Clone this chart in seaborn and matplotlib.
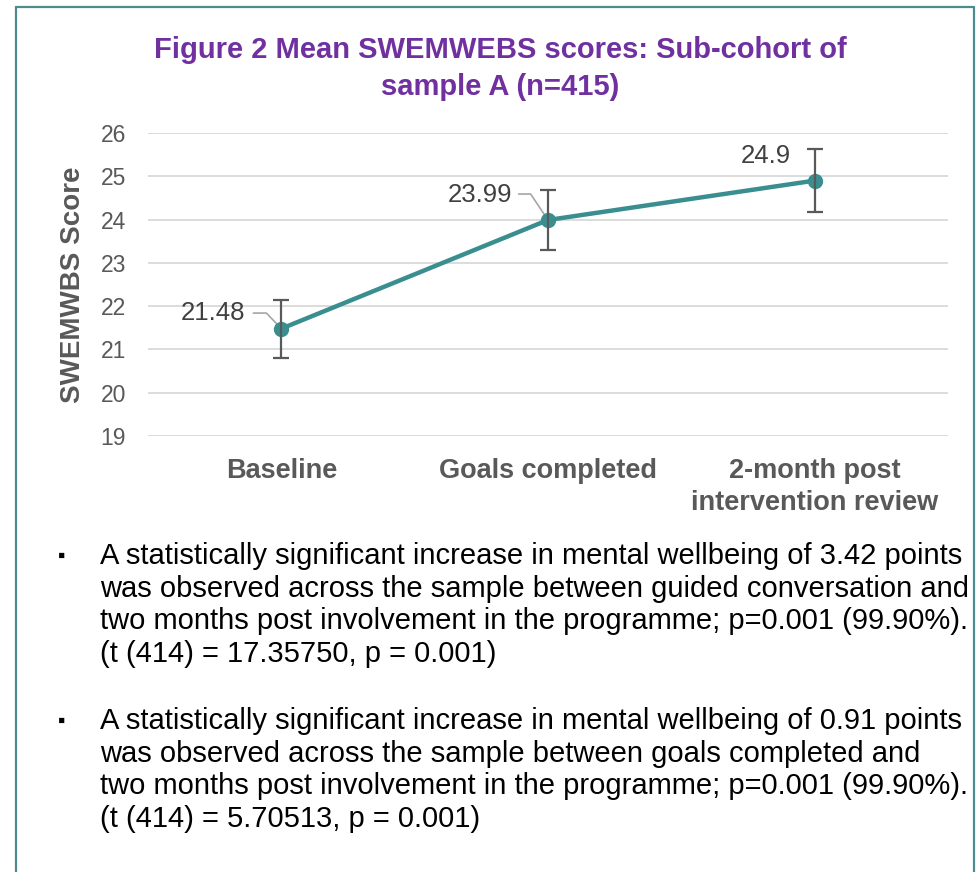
import matplotlib
matplotlib.use("Agg")
import matplotlib.pyplot as plt
import seaborn as sns
import pandas as pd
from matplotlib.lines import Line2D

stages = ["Baseline", "Goals completed", "2-month post\nintervention review"]
mean_scores = [21.48, 23.99, 24.9]
err_half = [0.67, 0.69, 0.72]
value_labels = ["21.48", "23.99", "24.9"]
y_ticks = [19, 20, 21, 22, 23, 24, 25, 26]

title_text = "Figure 2 Mean SWEMWEBS scores: Sub-cohort of\nsample A (n=415)"
y_label = "SWEMWBS Score"
bullet1 = ["A statistically significant increase in mental wellbeing of 3.42 points",
           "was observed across the sample between guided conversation and",
           "two months post involvement in the programme; p=0.001 (99.90%).",
           "(t (414) = 17.35750, p = 0.001)"]
bullet2 = ["A statistically significant increase in mental wellbeing of 0.91 points",
           "was observed across the sample between goals completed and",
           "two months post involvement in the programme; p=0.001 (99.90%).",
           "(t (414) = 5.70513, p = 0.001)"]

sns.set_theme(style="white")
plt.rcParams['font.family'] = ['Liberation Sans', 'DejaVu Sans']

W, H = 977, 872
fig = plt.figure(figsize=(W / 100, H / 100), dpi=100)
ax = fig.add_axes([148 / W, 1 - 436 / H, 800 / W, (436 - 133) / H])

df = pd.DataFrame({"stage": stages, "score": mean_scores})
line_col = "#3A8E8F"
grey = "#595959"

sns.pointplot(data=df, x="stage", y="score", color=line_col, errorbar=None,
              markers="o", linestyles="-", ax=ax, zorder=3)
for ln in ax.lines:
    ln.set_linewidth(3.2)
    ln.set_markersize(9)
for coll in ax.collections:
    coll.set_sizes([80])

ax.errorbar(range(len(stages)), mean_scores, yerr=err_half, fmt="none",
            ecolor=grey, elinewidth=1.6, capsize=6, capthick=1.6, zorder=4)

ax.set_xlim(-0.5, 2.5)
ax.set_ylim(19, 26)
ax.set_yticks(y_ticks)
ax.yaxis.grid(True, color="#D9D9D9", linewidth=1.3)
ax.set_axisbelow(True)
for s in ax.spines.values():
    s.set_visible(False)
ax.tick_params(axis="y", labelsize=16.5, labelcolor=grey, length=0, pad=16)
ax.tick_params(axis="x", length=0, pad=16)
ax.set_xticks(range(len(stages)))
ax.set_xticklabels(stages, fontsize=19.5, fontweight="bold", color=grey, linespacing=1.3)
ax.set_xlabel("")
ax.set_ylabel(y_label, fontsize=20, fontweight="bold", color=grey)
ax.yaxis.set_label_coords((86 - 148) / 800, 0.5)

lab_col = "#404040"
lead_col = "#A6A6A6"
ax.text(-0.135, mean_scores[0] + 0.36, value_labels[0], ha="right", va="center",
        fontsize=18.5, color=lab_col)
ax.plot([-0.105, -0.056, 0], [mean_scores[0] + 0.36, mean_scores[0] + 0.36, mean_scores[0]],
        color=lead_col, linewidth=1.2, zorder=2)
ax.text(1 - 0.134, mean_scores[1] + 0.58, value_labels[1], ha="right", va="center",
        fontsize=18.5, color=lab_col)
ax.plot([1 - 0.11, 1 - 0.065, 1], [mean_scores[1] + 0.6, mean_scores[1] + 0.6, mean_scores[1]],
        color=lead_col, linewidth=1.2, zorder=2)
ax.text(2 - 0.09, mean_scores[2] + 0.57, value_labels[2], ha="right", va="center",
        fontsize=18.5, color=lab_col)

fig.text(500 / W, 1 - 68.5 / H, title_text, ha="center", va="center", fontsize=21,
         fontweight="bold", color="#7030A0", linespacing=1.4)

y0 = 556
for i, t in enumerate(bullet1):
    fig.text(100 / W, 1 - (y0 + i * 32.5) / H, t, ha="left", va="center", fontsize=21, color="black")
fig.text(62 / W, 1 - y0 / H, "\u25aa", ha="center", va="center", fontsize=15, color="black")
y1 = 721
for i, t in enumerate(bullet2):
    fig.text(100 / W, 1 - (y1 + i * 32.5) / H, t, ha="left", va="center", fontsize=21, color="black")
fig.text(62 / W, 1 - y1 / H, "\u25aa", ha="center", va="center", fontsize=15, color="black")

border = "#4E8B8E"
for xs, ys in [([16, 16], [872, 7]), ([16, 974], [7, 7]), ([974, 974], [7, 872])]:
    fig.add_artist(Line2D([x / W for x in xs], [1 - y / H for y in ys], color=border,
                          linewidth=1.6, transform=fig.transFigure))

fig.savefig("out.png", dpi=100)
